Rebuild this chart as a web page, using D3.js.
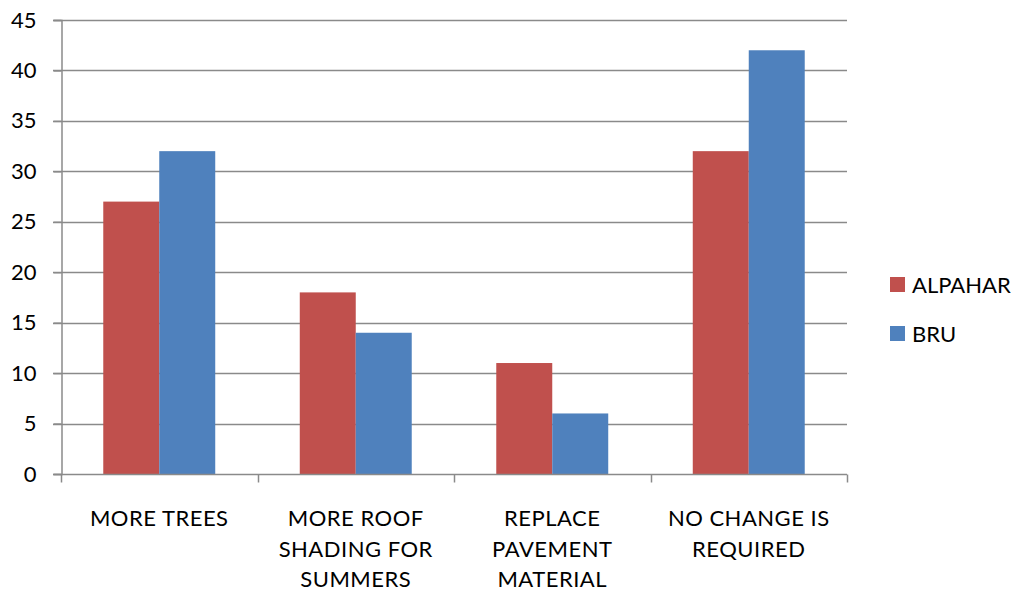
<!DOCTYPE html>
<html>
<head>
<meta charset="utf-8">
<script src="https://cdn.jsdelivr.net/npm/d3@7"></script>
<style>
  html, body { margin: 0; padding: 0; background: #fff; }
  svg { display: block; font-family: Lato, "Open Sans", sans-serif; }
</style>
</head>
<body>
<svg id="chart" width="1018" height="595"></svg>
<script>
// Survey responses per suggested measure
const categories = [
  ["MORE TREES"],
  ["MORE ROOF", "SHADING FOR", "SUMMERS"],
  ["REPLACE", "PAVEMENT", "MATERIAL"],
  ["NO CHANGE IS", "REQUIRED"]
];
const seriesNames = ["ALPAHAR", "BRU"];
const alpahar = [27, 18, 11, 32];
const bru = [32, 14, 6, 42];
const yTicks = [0, 5, 10, 15, 20, 25, 30, 35, 40, 45];
const colors = ["#C0504D", "#4F81BD"];

const svg = d3.select("#chart");
const margin = { left: 61, right: 171, top: 20, bottom: 121 };
const W = 1018, H = 595;
const FONT = 22;

const x = d3.scaleBand()
  .domain(d3.range(categories.length))
  .range([margin.left, W - margin.right])
  .paddingInner(0)
  .paddingOuter(0);

const y = d3.scaleLinear()
  .domain([0, 45])
  .range([H - margin.bottom, margin.top]);

const inner = d3.scaleBand()
  .domain(seriesNames)
  .range([0, x.bandwidth()])
  .paddingInner(0)
  .paddingOuter(0.755);

// Horizontal gridlines
svg.append("g")
  .selectAll("line")
  .data(yTicks.filter(d => d > 0))
  .join("line")
  .attr("x1", margin.left - 8)
  .attr("x2", W - margin.right)
  .attr("y1", d => Math.round(y(d)) + 0.5)
  .attr("y2", d => Math.round(y(d)) + 0.5)
  .attr("stroke", "#8a8a8a")
  .attr("stroke-width", 1.5);

// Bars
const rows = seriesNames.map((name, i) => ({ name, values: i === 0 ? alpahar : bru, color: colors[i] }));
const groups = svg.append("g");
rows.forEach(r => {
  groups.selectAll(null)
    .data(r.values)
    .join("rect")
    .attr("x", (d, i) => x(i) + inner(r.name))
    .attr("width", inner.bandwidth())
    .attr("y", d => y(d))
    .attr("height", d => y(0) - y(d))
    .attr("fill", r.color);
});

// Y axis
const yAxis = d3.axisLeft(y)
  .tickValues(yTicks)
  .tickSize(8)
  .tickPadding(17);
const gy = svg.append("g")
  .attr("transform", `translate(${margin.left + 0.5},0)`)
  .call(yAxis);
gy.select(".domain").attr("stroke", "#8a8a8a").attr("stroke-width", 1.5);
gy.selectAll(".tick line").attr("stroke", "#8a8a8a").attr("stroke-width", 1.5);
gy.selectAll(".tick text")
  .attr("font-size", FONT)
  .attr("font-family", "Lato, 'Open Sans', sans-serif")
  .attr("fill", "#000");

// X axis line and category separators
const gx = svg.append("g")
  .attr("transform", `translate(0,${Math.round(y(0)) + 0.5})`);
gx.append("line")
  .attr("x1", margin.left - 8)
  .attr("x2", W - margin.right)
  .attr("stroke", "#8a8a8a")
  .attr("stroke-width", 1.5);
gx.selectAll("line.sep")
  .data(d3.range(categories.length + 1))
  .join("line")
  .attr("class", "sep")
  .attr("x1", i => Math.round(i < categories.length ? x(i) : x(i - 1) + x.bandwidth()) + 0.5)
  .attr("x2", i => Math.round(i < categories.length ? x(i) : x(i - 1) + x.bandwidth()) + 0.5)
  .attr("y1", 0)
  .attr("y2", 8)
  .attr("stroke", "#8a8a8a")
  .attr("stroke-width", 1.5);

// Category labels
const labels = svg.append("g")
  .attr("font-size", FONT)
  .attr("letter-spacing", 0.5)
  .attr("text-anchor", "middle")
  .attr("fill", "#000");
categories.forEach((lines, i) => {
  const t = labels.append("text")
    .attr("x", x(i) + x.bandwidth() / 2)
    .attr("y", 526);
  lines.forEach((ln, j) => {
    t.append("tspan")
      .attr("x", x(i) + x.bandwidth() / 2)
      .attr("dy", j === 0 ? 0 : 30.5)
      .text(ln);
  });
});

// Legend
const legend = svg.append("g").attr("transform", "translate(890,277)");
seriesNames.forEach((name, i) => {
  const g = legend.append("g").attr("transform", `translate(0,${i * 49})`);
  g.append("rect").attr("width", 15).attr("height", 15).attr("fill", colors[i]);
  g.append("text")
    .attr("x", 22)
    .attr("y", 15.5)
    .attr("font-size", FONT)
    .attr("fill", "#000")
    .text(name);
});
</script>
</body>
</html>
